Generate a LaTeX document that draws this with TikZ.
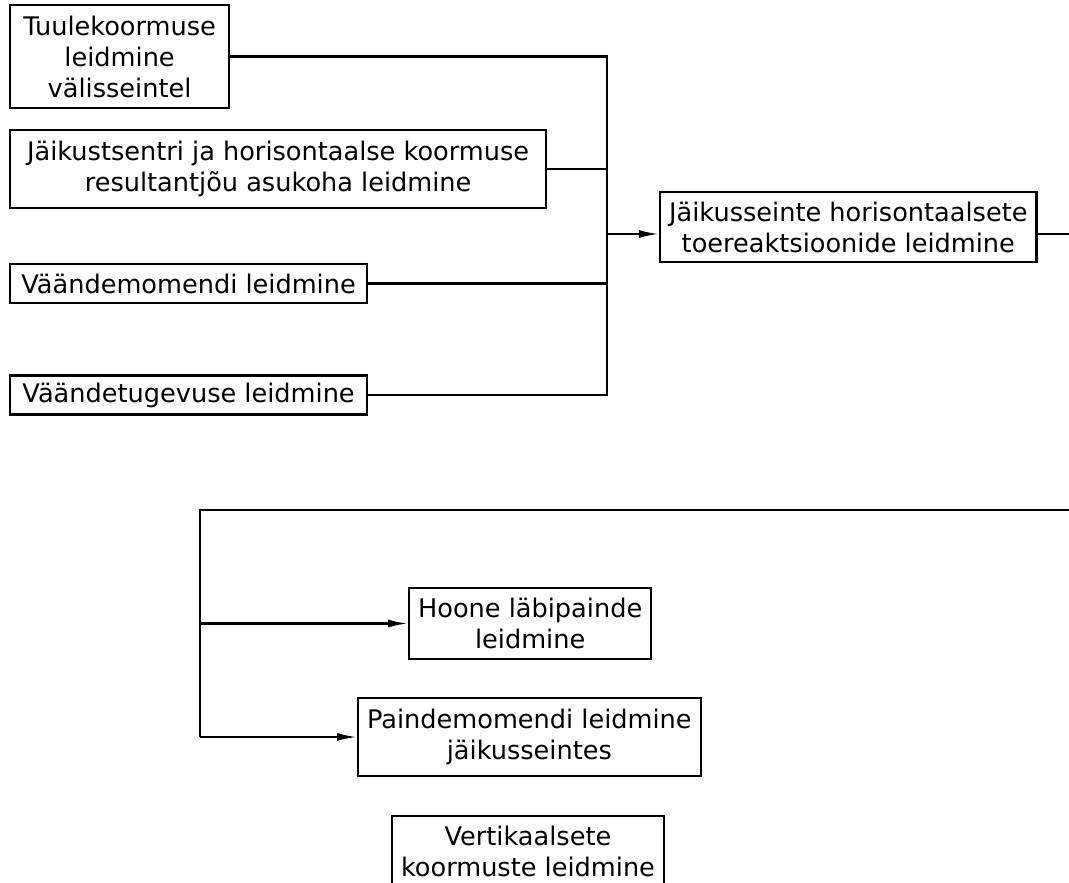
\documentclass[tikz,border=0pt]{standalone}
\usepackage{fontspec}
\setmainfont{DejaVu Sans}
\usetikzlibrary{arrows.meta}

\begin{document}
\begin{tikzpicture}[x=1pt, y=-1pt, >={Latex[length=20pt, width=8pt]},
    box/.style={draw, line width=2.2pt, align=center, inner xsep=9pt, inner ysep=0pt,
        minimum height=39pt, font=\fontsize{25.6}{31}\selectfont},
    link/.style={line width=2.2pt}]
    \useasboundingbox (0,0) rectangle (1069,883);

    \node[box, anchor=west, minimum width=219pt, minimum height=103pt] (tuul) at (9,56.5) {Tuulekoormuse\\leidmine\\välisseintel};
    \node[box, anchor=west, minimum width=536pt, minimum height=78pt] (jaik) at (9,169) {Jäikustsentri ja horisontaalse koormuse\\resultantjõu asukoha leidmine};
    \node[box, anchor=west, minimum width=357pt] (vmom) at (9,283.5) {Väändemomendi leidmine};
    \node[box, anchor=west, minimum width=357pt] (vtug) at (9,395) {Väändetugevuse leidmine};

    \coordinate (bus) at (607,234);
    \node[box, anchor=west, minimum height=70pt] (reak) at (659,227) {Jäikusseinte horisontaalsete\\toereaktsioonide leidmine};

    \coordinate (edge) at (1090,510);
    \coordinate (split) at (200,510);

    \node[box, anchor=west, minimum height=71pt] (hoon) at (408,623.5) {Hoone läbipainde\\leidmine};
    \node[box, anchor=west, minimum height=78pt] (pain) at (357,737) {Paindemomendi leidmine\\jäikusseintes};
    \node[box, anchor=north, minimum height=71pt] (vert) at (528,815) {Vertikaalsete\\koormuste leidmine};

    % inputs to the collecting line
    \draw[link] (tuul.east) -- (tuul.east -| bus) -- (vtug.east -| bus) -- (vtug.east);
    \draw[link] (jaik.east) -- (jaik.east -| bus);
    \draw[link] (vmom.east) -- (vmom.east -| bus);
    \draw[link, ->] (bus) -- (bus -| reak.west);

    % on to the lower part
    \draw[link] (reak.east |- bus) -| (edge) -- (split) -- (split |- pain.west);
    \draw[link, ->] (split |- hoon.west) -- (hoon.west);
    \draw[link, ->] (split |- pain.west) -- (pain.west);
\end{tikzpicture}
\end{document}
